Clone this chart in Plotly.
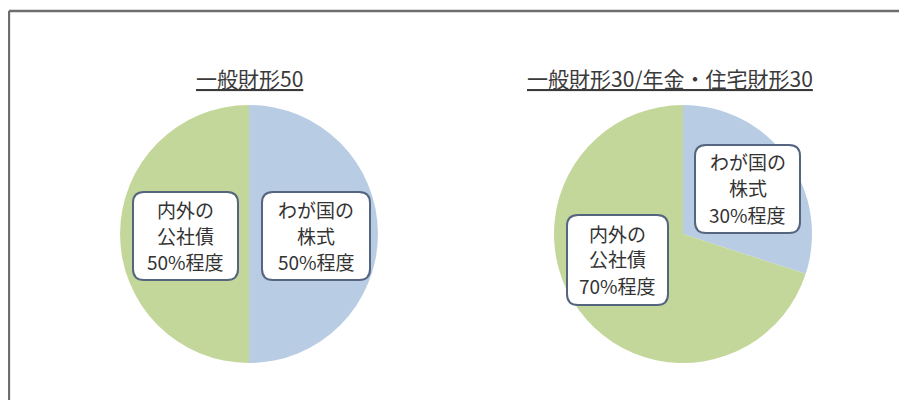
import plotly.graph_objects as go

# ---- data ----
panel_titles = ["一般財形50", "一般財形30/年金・住宅財形30"]
category_lines = [["わが国の", "株式"], ["内外の", "公社債"]]
shares_general50 = [50, 50]          # stock, bond
shares_general30 = [30, 70]          # stock, bond
slice_colors = ["#b8cce4", "#c4d79b"]

OFF = 8                       # page body margin offset
W, H = 907 - OFF, 400 - OFF
FONT = "Noto Sans CJK JP"
LINE_GAP = 26


def px(x):
    return (x - OFF) / W


def py(y):
    return 1 - (y - OFF) / H


def rounded_path(x0, y0, x1, y1, r=11):
    rx, ry = r / W, r / H
    X0, X1 = px(x0), px(x1)
    Y0, Y1 = py(y0), py(y1)  # Y0 top (bigger), Y1 bottom
    return (f"M {X0+rx},{Y0} L {X1-rx},{Y0} Q {X1},{Y0} {X1},{Y0-ry} "
            f"L {X1},{Y1+ry} Q {X1},{Y1} {X1-rx},{Y1} L {X0+rx},{Y1} "
            f"Q {X0},{Y1} {X0},{Y1+ry} L {X0},{Y0-ry} Q {X0},{Y0} {X0+rx},{Y0} Z")


panels = [
    dict(values=shares_general50, dom=(120, 378, 105, 363), title_xy=(249, 78),
         boxes=[(262, 192, 370, 280), (133, 192, 238, 280)]),
    dict(values=shares_general30, dom=(554, 812, 105, 363), title_xy=(670, 78),
         boxes=[(695, 145, 800, 233), (567, 215, 668, 305)]),
]

fig = go.Figure()
shapes = []
annotations = []
for title, p in zip(panel_titles, panels):
    x0, x1, y0, y1 = p["dom"]
    fig.add_trace(go.Pie(
        values=p["values"],
        labels=["".join(l) for l in category_lines],
        marker=dict(colors=slice_colors, line=dict(width=0)),
        sort=False, direction="clockwise", rotation=0,
        textinfo="none", hoverinfo="skip", showlegend=False,
        domain=dict(x=[px(x0), px(x1)], y=[py(y1), py(y0)]),
    ))
    tx, ty = p["title_xy"]
    annotations.append(dict(
        text=f"<u>{title}</u>", x=px(tx), y=py(ty), xref="paper", yref="paper",
        showarrow=False, xanchor="center", yanchor="middle",
        font=dict(family=FONT, size=21, color="#3a3a3a")))
    for lines, val, (bx0, by0, bx1, by1) in zip(category_lines, p["values"], p["boxes"]):
        shapes.append(dict(type="path", xref="paper", yref="paper",
                           path=rounded_path(bx0, by0, bx1, by1),
                           fillcolor="white", line=dict(color="#55657f", width=2)))
        cx, cy = (bx0 + bx1) / 2, (by0 + by1) / 2 - 1
        all_lines = lines + [f"{val}%程度"]
        for i, txt in enumerate(all_lines):
            ly = cy + (i - (len(all_lines) - 1) / 2) * LINE_GAP
            annotations.append(dict(
                text=txt, x=px(cx), y=py(ly),
                xref="paper", yref="paper", showarrow=False,
                xanchor="center", yanchor="middle", align="center",
                font=dict(family=FONT, size=19, color="#333333")))

# frame lines
shapes.append(dict(type="line", xref="paper", yref="paper",
                   x0=0.9 / W, x1=1, y0=py(11), y1=py(11),
                   line=dict(color="#6e6e6e", width=2.5)))
shapes.append(dict(type="line", xref="paper", yref="paper",
                   x0=0.9 / W, x1=0.9 / W, y0=py(11), y1=0,
                   line=dict(color="#6e6e6e", width=2.5)))

fig.update_layout(
    width=W, height=H,
    margin=dict(l=0, r=0, t=0, b=0),
    paper_bgcolor="white", plot_bgcolor="white",
    shapes=shapes, annotations=annotations,
)
fig.write_html("out.html")
